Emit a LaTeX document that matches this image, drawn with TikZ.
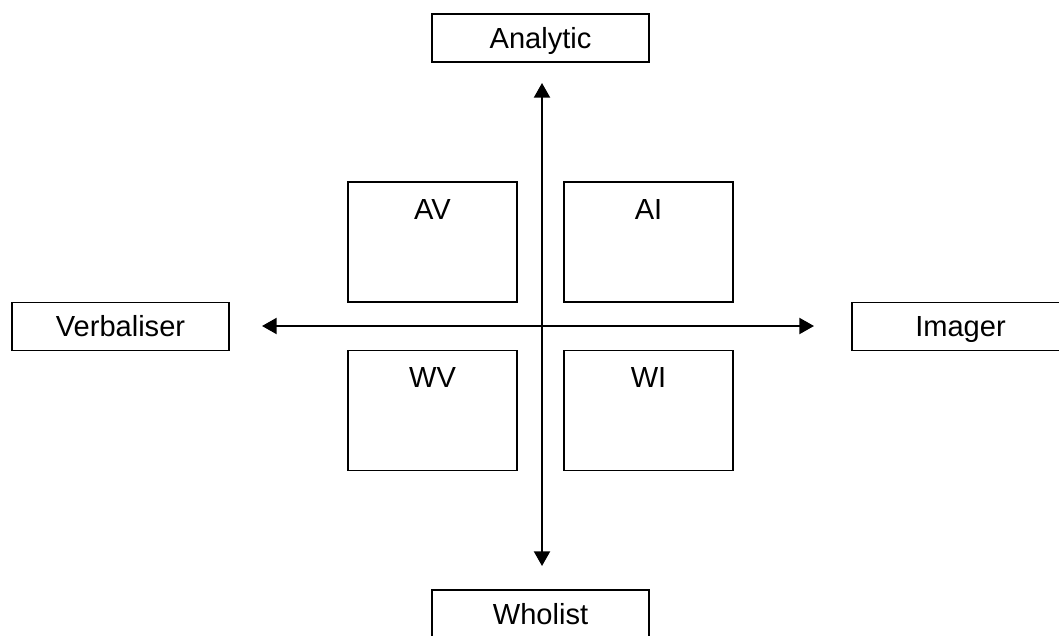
\documentclass[tikz,border=0pt]{standalone}
\usepackage{fontspec}
\setmainfont{Liberation Sans}
\usetikzlibrary{arrows.meta}
\begin{document}
\begin{tikzpicture}[x=0.75pt,y=-0.75pt,
  every node/.style={font=\fontsize{21.8pt}{25pt}\selectfont, text=black},
  pole/.style={draw=black, line width=1.4pt, minimum width=217*0.75pt, minimum height=48*0.75pt,
    inner sep=0pt, text height=15.6pt, text depth=0pt},
  quad/.style={draw=black, line width=1.4pt, minimum width=169*0.75pt, minimum height=120*0.75pt, inner sep=0pt},
  qlabel/.style={inner sep=0pt, text height=15.6pt, text depth=0pt},
  axis/.style={line width=1.6pt, -{Triangle[length=11pt,width=12pt]}}
]
\path[use as bounding box, clip] (0,0) rectangle (1059,635);
\fill[white] (0,0) rectangle (1059,635);

% the four poles of the two dimensions
\node[pole] (analytic) at (540.5,38) {Analytic};
\node[pole] (wholist) at (540.5,614) {Wholist};
\node[pole] (verbaliser) at (120.5,326.5) {Verbaliser};
\node[pole] (imager) at (960.5,326.5) {Imager};

% axes
\coordinate (centre) at (542,326);
\coordinate (ytop) at (542,83);
\coordinate (ybot) at (542,566);
\coordinate (xleft) at (262,326);
\coordinate (xright) at (814,326);
\draw[axis] (centre) -- (ytop);
\draw[axis] (centre) -- (ybot);
\draw[axis] (centre) -- (xleft);
\draw[axis] (centre) -- (xright);

% the four quadrant styles
\node[quad] (av) at (432.5,242) {};
\node[quad] (ai) at (648.5,242) {};
\node[quad] (wv) at (432.5,410.5) {};
\node[quad] (wi) at (648.5,410.5) {};
\node[qlabel] at ([yshift=-28*0.75pt]av.north) {AV};
\node[qlabel] at ([yshift=-28*0.75pt]ai.north) {AI};
\node[qlabel] at ([yshift=-28*0.75pt]wv.north) {WV};
\node[qlabel] at ([yshift=-28*0.75pt]wi.north) {WI};
\end{tikzpicture}
\end{document}
